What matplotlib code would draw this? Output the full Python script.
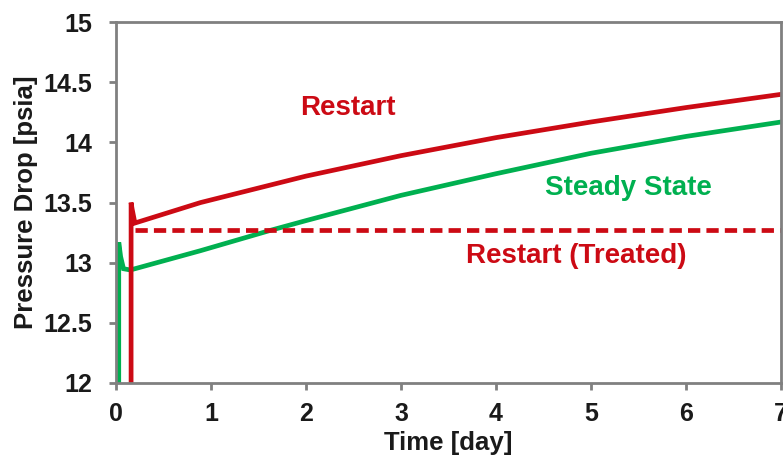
import numpy as np
import matplotlib
matplotlib.use("Agg")
import matplotlib.pyplot as plt

# values
t_restart = [0.16, 0.16, 0.17, 0.2, 0.89, 2.0, 3.0, 4.0, 5.0, 6.0, 7.0]
p_restart = [12.0, 13.50, 13.45, 13.33, 13.50, 13.72, 13.89, 14.04, 14.17, 14.29, 14.40]

t_steady = [0.03, 0.03, 0.05, 0.08, 0.15, 0.2, 0.89, 1.63, 2.0, 3.0, 4.0, 5.0, 6.0, 7.0]
p_steady = [12.0, 13.17, 13.05, 12.95, 12.94, 12.95, 13.10, 13.27, 13.35, 13.56, 13.74, 13.91, 14.05, 14.17]

t_treated = [0.2, 7.0]
p_treated = [13.27, 13.27]

xticks = [0, 1, 2, 3, 4, 5, 6, 7]
yticks = [12, 12.5, 13, 13.5, 14, 14.5, 15]
ylabels = ["12", "12.5", "13", "13.5", "14", "14.5", "15"]

red = "#CC0A14"
green = "#00B050"
grey = "#808080"

plt.rcParams['font.family'] = ['Liberation Sans', 'DejaVu Sans']
plt.rcParams['font.weight'] = 'bold'

fig = plt.figure(figsize=(7.83, 4.62), dpi=100)
ax = fig.add_axes([0.148, 0.171, 0.8495, 0.781])

ax.plot(t_steady, p_steady, color=green, lw=3.4, solid_joinstyle='miter')
ax.plot(t_restart, p_restart, color=red, lw=3.4, solid_joinstyle='miter')
ax.plot(t_treated, p_treated, color=red, lw=3.4, dashes=(2.6, 1.3))

ax.set_xlim(0, 7)
ax.set_ylim(12, 15)
ax.set_xticks(xticks)
ax.set_yticks(yticks)
ax.set_yticklabels(ylabels)

for s in ax.spines.values():
    s.set_color(grey)
    s.set_linewidth(2)
ax.tick_params(colors=grey, width=2, length=5, labelcolor='#1a1a1a', labelsize=18)
ax.tick_params(axis='x', pad=9)
ax.tick_params(axis='y', pad=12)

ax.set_xlabel("Time [day]", fontsize=18.5, fontweight='bold', color='#1a1a1a', labelpad=3)
ax.set_ylabel("Pressure Drop [psia]", fontsize=18.5, fontweight='bold', color='#1a1a1a', labelpad=4)

ax.text(2.44, 14.29, "Restart", color=red, fontsize=20, fontweight='bold', ha='center', va='center')
ax.text(5.39, 13.62, "Steady State", color=green, fontsize=20, fontweight='bold', ha='center', va='center')
ax.text(4.85, 13.06, "Restart (Treated)", color=red, fontsize=20, fontweight='bold', ha='center', va='center')

fig.savefig("out.png", dpi=100)
